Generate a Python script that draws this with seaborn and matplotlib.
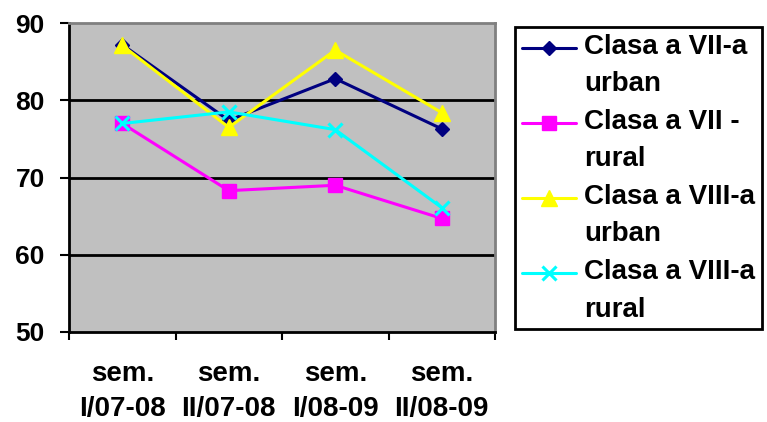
import pandas as pd
import seaborn as sns
from matplotlib import pyplot as plt
from matplotlib.lines import Line2D
from matplotlib.legend_handler import HandlerLine2D

semesters = ["sem.\nI/07-08", "sem.\nII/07-08", "sem.\nI/08-09", "sem.\nII/08-09"]
vii_urban = [87.2, 77.4, 82.8, 76.3]
vii_rural = [77.0, 68.3, 69.0, 64.7]
viii_urban = [87.1, 76.5, 86.5, 78.4]
viii_rural = [77.0, 78.5, 76.2, 66.1]

series_names = ["Clasa a VII-a\nurban", "Clasa a VII -\nrural", "Clasa a VIII-a\nurban", "Clasa a VIII-a\nrural"]
series_values = [vii_urban, vii_rural, viii_urban, viii_rural]
colors = ["#000080", "#FF00FF", "#FFFF00", "#00FFFF"]
markers = ["D", "s", "^", "x"]
msizes = [7, 10, 11, 10]


class FirstLineHandler(HandlerLine2D):
    # put the legend handle next to the first line of a two-line label
    def create_artists(self, legend, orig_handle, xdescent, ydescent, width, height, fontsize, trans):
        return super().create_artists(legend, orig_handle, xdescent, ydescent - 26,
                                      width, height, fontsize, trans)


sns.set_style("white")
plt.rcParams['font.family'] = ['Liberation Sans', 'DejaVu Sans']
plt.rcParams.update({"text.color": "black", "xtick.color": "black", "ytick.color": "black",
                     "axes.labelcolor": "black"})

fig = plt.figure(figsize=(7.67, 4.22), dpi=100)
ax = fig.add_axes([0.0900, 0.2133, 0.5554, 0.732])
ax.set_facecolor("#C0C0C0")

for name, vals, c, m, ms in zip(series_names, series_values, colors, markers, msizes):
    df = pd.DataFrame({"x": range(len(semesters)), "y": vals})
    sns.lineplot(data=df, x="x", y="y", ax=ax, color=c, marker=m, markersize=ms,
                 markeredgecolor=c, markeredgewidth=2.2 if m == "x" else 1,
                 linewidth=2.2, label=name)

ax.set_xlim(-0.5, 3.5)
ax.set_ylim(50, 90)
ax.set_yticks([50, 60, 70, 80, 90])
for y in [60, 70, 80]:
    ax.axhline(y, color="black", linewidth=2, zorder=1)
ax.set_xticks(range(4))
ax.set_xticklabels(semesters, fontsize=20, fontweight="bold", linespacing=1.45)
ax.set_xticks([-0.5, 0.5, 1.5, 2.5, 3.5], minor=True)
ax.tick_params(axis="x", which="major", bottom=True, length=0, pad=21)
ax.tick_params(axis="x", which="minor", bottom=True, length=6, width=1.5, direction="out", color="black")
ax.tick_params(axis="y", left=True, length=6.5, width=1.5, direction="out", color="black",
               labelsize=19, pad=11)
for lbl in ax.get_yticklabels():
    lbl.set_fontweight("bold")
ax.set_xlabel("")
ax.set_ylabel("")

for s in ["left", "bottom"]:
    ax.spines[s].set_color("black")
    ax.spines[s].set_linewidth(2)
for s in ["top", "right"]:
    ax.spines[s].set_color("#808080")
    ax.spines[s].set_linewidth(2)

leg = ax.legend(loc="upper left", bbox_to_anchor=(515 / 767, 1 - 27 / 422), bbox_transform=fig.transFigure,
                frameon=True, fancybox=False, edgecolor="black", handlelength=1.95,
                prop={"size": 20, "weight": "bold"}, borderpad=0.25, labelspacing=0.42,
                handletextpad=0.29, borderaxespad=0, framealpha=1,
                handler_map={Line2D: FirstLineHandler()})
leg.get_frame().set_linewidth(2)
for t in leg.get_texts():
    t.set_linespacing(1.57)

fig.savefig("out.png", dpi=100)
